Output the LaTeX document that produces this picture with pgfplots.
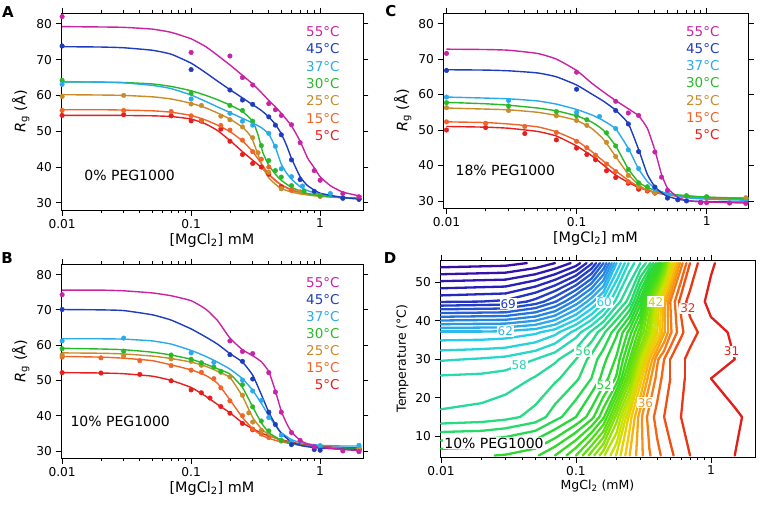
\documentclass[border=0pt]{standalone}
\usepackage{fontspec}
\setmainfont{DejaVu Sans}
\usepackage{pgfplots}
\pgfplotsset{compat=1.18}
\definecolor{c55}{RGB}{200,35,165}
\definecolor{c45}{RGB}{30,60,190}
\definecolor{c37}{RGB}{40,170,235}
\definecolor{c30}{RGB}{40,185,40}
\definecolor{c25}{RGB}{200,140,40}
\definecolor{c15}{RGB}{240,100,40}
\definecolor{c5}{RGB}{230,30,30}
\newcommand{\fs}[1]{\fontsize{#1}{#1}\selectfont}
\pgfplotsset{
  myfit/.style={line width=1.4pt, smooth, tension=0.3},
  mypts/.style={only marks, mark=*, mark size=2.3pt},
  mycl/.style={mesh, point meta=#1, line width=2.3pt, line cap=round},
}
\tikzset{
  myleg/.style={anchor=east, font=\fs{13.5}},
  myclab/.style={fill=white, inner sep=1pt, font=\fs{12}},
}
\newcommand{\tlegend}[1]{%
\node[myleg,text=c55] at (rel axis cs:#1,0.905) {55°C};
\node[myleg,text=c45] at (rel axis cs:#1,0.817) {45°C};
\node[myleg,text=c37] at (rel axis cs:#1,0.729) {37°C};
\node[myleg,text=c30] at (rel axis cs:#1,0.641) {30°C};
\node[myleg,text=c25] at (rel axis cs:#1,0.553) {25°C};
\node[myleg,text=c15] at (rel axis cs:#1,0.465) {15°C};
\node[myleg,text=c5] at (rel axis cs:#1,0.377) {5°C};}
\begin{document}
\begin{tikzpicture}
\path[use as bounding box] (0,0) rectangle (761pt,-507pt);
\node[font=\bfseries\fs{15}] at (8pt,-12pt) {A};
\node[font=\bfseries\fs{15}] at (7pt,-258pt) {B};
\node[font=\bfseries\fs{15}] at (391pt,-11pt) {C};
\node[font=\bfseries\fs{15}] at (390pt,-258pt) {D};
% ---------------- A ----------------
\begin{axis}[scale only axis, xmode=log,
    xtick={0.01,0.1,1}, xticklabels={0.01,0.1,1},
    tick align=outside, major tick length=5.5pt, minor tick length=3pt,
    axis line style={line width=0.9pt}, every tick/.style={black,line width=0.8pt},
    tick label style={font=\fs{12.2}}, label style={font=\fs{14.4}},
    ymin=28, ymax=83, ytick={30,40,50,60,70,80}, yticklabels={30,40,50,60,70,80},
    xlabel={[MgCl\textsubscript{2}] mM}, ylabel={\textit{R}\textsubscript{g} (Å)}, clip=false,
    xlabel style={yshift=2pt},
    at={(61pt,-210pt)}, anchor=south west, width=302pt, height=197pt, xmin=0.0098, xmax=2.15]
\addplot[myfit,c5] coordinates {(0.01,54.4)(0.02,54.4)(0.03,54.4)(0.05,54.3)(0.07,54.1)(0.1,53.4)(0.13,52.0)(0.16,50.2)(0.2,47.4)(0.25,44.3)(0.3,41.9)(0.35,39.9)(0.4,37.9)(0.45,36.3)(0.5,35.0)(0.6,33.6)(0.7,32.9)(0.8,32.5)(1,32.0)(1.5,31.5)(2.1,31.2)};
\addplot[mypts,c5] coordinates {(0.01,54.4)(0.03,54.6)(0.07,54.3)(0.1,52.9)(0.12,52.8)(0.17,50.6)(0.2,47.2)(0.25,43.5)(0.3,41)(0.35,40)(0.4,38)(0.5,34.5)};
\addplot[myfit,c15] coordinates {(0.01,56.0)(0.02,56.0)(0.03,55.9)(0.05,55.7)(0.07,55.3)(0.1,54.4)(0.13,53.1)(0.16,51.7)(0.2,49.9)(0.25,47.3)(0.3,44.3)(0.35,41.0)(0.4,38.0)(0.45,36.2)(0.5,35.0)(0.6,33.6)(0.7,32.9)(0.8,32.5)(1,32.0)(1.5,31.5)(2.1,31.2)};
\addplot[mypts,c15] coordinates {(0.01,55.8)(0.03,55.8)(0.07,55.5)(0.1,54.3)(0.12,53)(0.17,51.6)(0.2,50.3)(0.25,47.5)(0.3,44.3)(0.35,42.2)(0.4,40)(0.5,34)(0.6,33.5)(1,31.8)};
\addplot[myfit,c25] coordinates {(0.01,60.2)(0.02,60.1)(0.03,60.0)(0.05,59.6)(0.07,59.0)(0.1,57.8)(0.13,56.5)(0.16,55.1)(0.2,53.4)(0.25,51.1)(0.28,49.3)(0.3,47.5)(0.33,43.5)(0.36,39.8)(0.4,37.0)(0.45,35.2)(0.5,34.0)(0.6,33.0)(0.7,32.5)(0.8,32.2)(1,31.8)(1.5,31.4)(2.1,31.1)};
\addplot[mypts,c25] coordinates {(0.01,59.7)(0.03,60)(0.1,57.6)(0.12,57.2)(0.17,54.2)(0.2,53.2)(0.25,51.2)(0.3,48.2)(0.33,44)(0.4,38.5)(0.5,34)(0.7,33.1)(1,32)(2,31.2)};
\addplot[myfit,c30] coordinates {(0.01,63.8)(0.02,63.7)(0.03,63.6)(0.05,63.2)(0.07,62.5)(0.1,61.3)(0.13,60.0)(0.16,58.8)(0.2,57.3)(0.25,55.5)(0.3,52.8)(0.33,49.0)(0.36,44.0)(0.4,40.5)(0.45,38.0)(0.5,36.3)(0.6,34.3)(0.7,33.3)(0.8,32.6)(1,32.0)(1.5,31.4)(2.1,31.0)};
\addplot[mypts,c30] coordinates {(0.01,64.2)(0.1,60.6)(0.2,57.2)(0.25,55.8)(0.3,52.8)(0.35,46)(0.4,41.8)(0.45,39)(0.5,37.2)(0.6,34.8)(0.75,33.3)(1,32)(2,31)};
\addplot[myfit,c37] coordinates {(0.01,63.8)(0.02,63.7)(0.03,63.5)(0.05,62.8)(0.07,61.9)(0.1,60.1)(0.13,58.3)(0.16,56.8)(0.2,55.2)(0.25,53.6)(0.3,52.3)(0.35,51.0)(0.4,49.2)(0.45,45.5)(0.5,40.8)(0.55,38.3)(0.6,36.6)(0.7,34.5)(0.8,33.4)(1,32.4)(1.5,31.5)(2.1,31.2)};
\addplot[mypts,c37] coordinates {(0.01,63.1)(0.1,59)(0.2,55)(0.25,52.8)(0.3,51.7)(0.4,49.4)(0.45,45.8)(0.5,39.5)(0.6,37.3)(0.73,34.7)(1.2,32.6)(1.5,31.3)};
\addplot[myfit,c45] coordinates {(0.01,73.6)(0.02,73.5)(0.03,73.3)(0.05,72.6)(0.07,71.5)(0.1,69.0)(0.13,66.3)(0.16,64.0)(0.2,61.6)(0.25,59.3)(0.3,57.4)(0.35,55.8)(0.4,54.0)(0.45,51.9)(0.5,49.3)(0.55,46.0)(0.6,42.4)(0.7,37.3)(0.8,34.8)(1,32.7)(1.5,31.5)(2.1,31.1)};
\addplot[mypts,c45] coordinates {(0.01,73.8)(0.1,67.2)(0.2,61.5)(0.25,58.7)(0.3,57.5)(0.4,54)(0.45,51.7)(0.5,49)(0.6,42)(0.7,36.5)(0.9,33.2)(1.5,31.3)(2,31)};
\addplot[myfit,c55] coordinates {(0.01,79.2)(0.02,79.1)(0.03,79.0)(0.05,78.5)(0.07,77.6)(0.1,75.8)(0.13,73.6)(0.16,71.2)(0.2,68.5)(0.25,65.6)(0.3,63.2)(0.35,60.8)(0.4,58.6)(0.45,56.8)(0.5,55.0)(0.6,51.5)(0.7,47.2)(0.8,42.5)(0.9,39.8)(1,37.3)(1.2,34.8)(1.5,33.0)(2.1,31.8)};
\addplot[mypts,c55] coordinates {(0.01,82)(0.1,72)(0.2,71)(0.25,65)(0.3,62.9)(0.4,57.7)(0.45,56)(0.5,54.4)(0.6,51.8)(0.7,46.8)(0.9,39)(1,36.3)(1.5,32.6)(2,31.7)};
\tlegend{0.934}
\node[anchor=west,font=\fs{14}] at (rel axis cs:0.066,0.178) {0\% PEG1000};
\end{axis}
% ---------------- B ----------------
\begin{axis}[scale only axis, xmode=log,
    xtick={0.01,0.1,1}, xticklabels={0.01,0.1,1},
    tick align=outside, major tick length=5.5pt, minor tick length=3pt,
    axis line style={line width=0.9pt}, every tick/.style={black,line width=0.8pt},
    tick label style={font=\fs{12.2}}, label style={font=\fs{14.4}},
    ymin=28, ymax=83, ytick={30,40,50,60,70,80}, yticklabels={30,40,50,60,70,80},
    xlabel={[MgCl\textsubscript{2}] mM}, ylabel={\textit{R}\textsubscript{g} (Å)}, clip=false,
    xlabel style={yshift=2pt},
    at={(61pt,-458pt)}, anchor=south west, width=302pt, height=194pt, xmin=0.0098, xmax=2.15]
\addplot[myfit,c5] coordinates {(0.01,52.2)(0.02,52.1)(0.03,51.9)(0.05,51.2)(0.07,50.0)(0.1,48.0)(0.13,45.5)(0.16,43.2)(0.2,40.8)(0.25,38.0)(0.3,36.3)(0.35,35.1)(0.4,34.3)(0.45,33.7)(0.5,33.2)(0.6,32.5)(0.7,32.0)(0.8,31.7)(1,31.3)(1.5,31.0)(2.1,30.8)};
\addplot[mypts,c5] coordinates {(0.01,52.2)(0.02,52.1)(0.04,51.7)(0.07,49.9)(0.1,47.3)(0.12,46.5)(0.14,45)(0.17,42.6)(0.2,40.7)(0.25,37.8)(0.3,36)(0.35,35.7)};
\addplot[myfit,c15] coordinates {(0.01,56.8)(0.02,56.6)(0.03,56.3)(0.05,55.6)(0.07,54.4)(0.1,53.0)(0.13,51.4)(0.16,49.2)(0.2,44.5)(0.25,39.5)(0.3,36.3)(0.35,34.5)(0.4,33.6)(0.45,33.0)(0.5,32.6)(0.6,32.0)(0.7,31.6)(0.8,31.3)(1,31.0)(1.5,30.7)(2.1,30.5)};
\addplot[mypts,c15] coordinates {(0.01,56.6)(0.02,56.4)(0.04,55.6)(0.07,54.2)(0.1,52.9)(0.12,52.3)(0.15,50.5)(0.17,47.9)(0.2,44.2)(0.25,40)(0.3,36.2)(0.35,34.8)(0.4,33.8)};
\addplot[myfit,c25] coordinates {(0.01,57.8)(0.02,57.7)(0.03,57.5)(0.05,56.9)(0.07,56.2)(0.1,55.2)(0.13,54.0)(0.16,52.6)(0.2,50.8)(0.25,45.5)(0.3,39.5)(0.35,36.3)(0.4,34.6)(0.45,33.6)(0.5,33.0)(0.6,32.2)(0.7,31.7)(0.8,31.4)(1,31.0)(1.5,30.7)(2.1,30.5)};
\addplot[mypts,c25] coordinates {(0.01,57.2)(0.03,56.9)(0.07,56.1)(0.1,55.4)(0.12,54.3)(0.17,52.3)(0.2,51)(0.25,45.8)(0.28,40.8)(0.3,38.2)(0.35,35.8)(0.5,32.8)(2,30.7)};
\addplot[myfit,c30] coordinates {(0.01,59.1)(0.02,58.9)(0.03,58.7)(0.05,58.0)(0.07,57.2)(0.1,56.0)(0.13,54.6)(0.16,53.3)(0.2,51.8)(0.25,48.0)(0.3,42.5)(0.35,38.0)(0.4,35.2)(0.45,34.0)(0.5,33.0)(0.6,32.2)(0.7,31.7)(0.8,31.4)(1,31.0)(1.5,30.7)(2.1,30.6)};
\addplot[mypts,c30] coordinates {(0.01,59)(0.03,58.3)(0.07,57.2)(0.1,56)(0.12,55)(0.15,53.8)(0.17,52.6)(0.25,48.8)(0.3,42.5)(0.35,38.5)(0.4,35.7)(0.5,33)(1,31.3)};
\addplot[myfit,c37] coordinates {(0.01,61.8)(0.02,61.8)(0.03,61.7)(0.05,61.2)(0.07,60.3)(0.1,58.5)(0.13,56.8)(0.16,55.2)(0.2,53.2)(0.25,50.5)(0.3,47.2)(0.35,43.5)(0.4,40.0)(0.45,37.2)(0.5,35.2)(0.6,33.2)(0.7,32.4)(0.8,32.0)(1,31.6)(1.5,31.4)(2.1,31.4)};
\addplot[mypts,c37] coordinates {(0.01,61.2)(0.03,62)(0.1,57.8)(0.15,55.1)(0.25,50.1)(0.3,47)(0.35,44.3)(0.4,39.5)(0.5,34.5)(0.6,32.6)(1,31.5)(2,31.6)};
\addplot[myfit,c45] coordinates {(0.01,70.1)(0.02,70.0)(0.03,69.8)(0.05,68.6)(0.07,67.1)(0.1,64.6)(0.13,62.3)(0.16,60.3)(0.2,57.6)(0.25,55.2)(0.3,51.5)(0.35,46.0)(0.4,41.0)(0.45,37.5)(0.5,35.0)(0.6,32.5)(0.7,31.6)(0.8,31.2)(1,30.8)(1.5,30.5)(2.1,30.4)};
\addplot[mypts,c45] coordinates {(0.01,70.1)(0.2,57.3)(0.25,55.4)(0.3,50.4)(0.4,41)(0.45,37.5)(0.6,31.8)(0.9,30.4)(1,30.2)};
\addplot[myfit,c55] coordinates {(0.01,75.6)(0.02,75.6)(0.03,75.4)(0.05,74.8)(0.07,74.0)(0.1,72.6)(0.13,70.2)(0.16,67.0)(0.2,62.0)(0.25,58.7)(0.3,57.0)(0.35,55.3)(0.4,52.5)(0.45,47.0)(0.5,41.3)(0.55,37.8)(0.6,35.4)(0.7,33.0)(0.8,32.0)(1,31.1)(1.5,30.4)(2.1,30.1)};
\addplot[mypts,c55] coordinates {(0.01,74.3)(0.2,61.2)(0.25,58.2)(0.3,57.6)(0.4,52.2)(0.45,46.7)(0.5,41)(0.6,35.2)(0.7,33)(0.9,31.2)(1.5,30)(2,29.8)};
\tlegend{0.934}
\node[anchor=west,font=\fs{14}] at (rel axis cs:0.02,0.187) {10\% PEG1000};
\end{axis}
% ---------------- C ----------------
\begin{axis}[scale only axis, xmode=log,
    xtick={0.01,0.1,1}, xticklabels={0.01,0.1,1},
    tick align=outside, major tick length=5.5pt, minor tick length=3pt,
    axis line style={line width=0.9pt}, every tick/.style={black,line width=0.8pt},
    tick label style={font=\fs{12.2}}, label style={font=\fs{14.4}},
    ymin=28, ymax=83, ytick={30,40,50,60,70,80}, yticklabels={30,40,50,60,70,80},
    xlabel={[MgCl\textsubscript{2}] mM}, ylabel={\textit{R}\textsubscript{g} (Å)}, clip=false,
    xlabel style={yshift=2pt},
    at={(443pt,-208pt)}, anchor=south west, width=305pt, height=195pt, xmin=0.0094, xmax=2.08]
\addplot[myfit,c5] coordinates {(0.01,51.0)(0.02,50.8)(0.03,50.5)(0.05,49.6)(0.07,48.3)(0.1,45.5)(0.13,42.8)(0.16,40.2)(0.2,37.3)(0.25,35.2)(0.3,33.8)(0.35,33.0)(0.4,32.5)(0.45,32.2)(0.5,31.9)(0.6,31.5)(0.7,31.2)(0.8,31.0)(1,30.8)(1.5,30.6)(2.1,30.5)};
\addplot[mypts,c5] coordinates {(0.01,50)(0.02,50.7)(0.04,49)(0.07,47.2)(0.1,44.9)(0.12,43.1)(0.14,41.6)(0.17,38.5)(0.2,36.6)(0.25,35)(0.3,33.3)(0.35,32.8)(0.4,32.2)};
\addplot[myfit,c15] coordinates {(0.01,52.3)(0.02,52.1)(0.03,51.7)(0.05,50.9)(0.07,49.5)(0.1,47.0)(0.13,44.0)(0.16,41.3)(0.2,38.5)(0.25,35.8)(0.3,34.0)(0.35,33.0)(0.4,32.4)(0.45,32.0)(0.5,31.7)(0.6,31.3)(0.7,31.1)(0.8,31.0)(1,30.8)(1.5,30.7)(2.1,30.6)};
\addplot[mypts,c15] coordinates {(0.01,52.3)(0.02,51.9)(0.04,51)(0.07,49.3)(0.1,46.8)(0.12,45)(0.14,42.9)(0.17,40.4)(0.2,38.3)(0.25,35.4)(0.3,33.9)(0.35,33)};
\addplot[myfit,c25] coordinates {(0.01,56.2)(0.02,55.9)(0.03,55.7)(0.05,55.0)(0.07,54.1)(0.1,52.7)(0.13,50.5)(0.16,47.5)(0.2,42.5)(0.25,37.5)(0.3,34.5)(0.35,33.0)(0.4,32.4)(0.45,32.0)(0.5,31.8)(0.6,31.5)(0.7,31.3)(0.8,31.2)(1,31.0)(1.5,30.9)(2.1,30.8)};
\addplot[mypts,c25] coordinates {(0.01,56.3)(0.03,55.5)(0.07,54)(0.1,52.7)(0.12,51.3)(0.17,46.5)(0.2,42.5)(0.25,37.2)(0.3,34.4)(0.4,32.3)(2,30.9)};
\addplot[myfit,c30] coordinates {(0.01,57.8)(0.02,57.4)(0.03,57.0)(0.05,56.2)(0.07,55.4)(0.1,54.0)(0.13,52.3)(0.16,50.0)(0.2,45.5)(0.25,39.0)(0.3,35.3)(0.35,33.8)(0.4,33.0)(0.45,32.5)(0.5,32.1)(0.6,31.7)(0.7,31.5)(0.8,31.3)(1,31.1)(1.5,30.8)(2.1,30.7)};
\addplot[mypts,c30] coordinates {(0.01,57.7)(0.03,56.8)(0.07,55.2)(0.1,54)(0.12,52.9)(0.17,49.2)(0.2,45.5)(0.25,38.9)(0.3,35.1)(0.35,34)(0.7,31.5)(1,31.2)};
\addplot[myfit,c37] coordinates {(0.01,59.3)(0.02,59.0)(0.03,58.8)(0.05,58.2)(0.07,57.3)(0.1,55.8)(0.13,54.3)(0.16,52.7)(0.2,50.3)(0.25,44.8)(0.3,39.0)(0.35,35.5)(0.4,33.6)(0.45,32.6)(0.5,32.0)(0.6,31.3)(0.7,30.9)(0.8,30.7)(1,30.5)(1.5,30.3)(2.1,30.2)};
\addplot[mypts,c37] coordinates {(0.01,59.3)(0.03,58.3)(0.1,55)(0.15,53.8)(0.2,50.4)(0.25,44.4)(0.3,39.1)(0.4,33.4)(0.5,32.3)};
\addplot[myfit,c45] coordinates {(0.01,67.0)(0.02,66.9)(0.03,66.7)(0.05,66.1)(0.07,65.0)(0.1,62.7)(0.13,60.2)(0.16,58.2)(0.2,55.6)(0.25,51.8)(0.3,44.5)(0.35,37.5)(0.4,34.0)(0.45,32.3)(0.5,31.3)(0.6,30.5)(0.7,30.1)(0.8,29.9)(1,29.8)(1.5,29.7)(2.1,29.7)};
\addplot[mypts,c45] coordinates {(0.01,66.8)(0.1,61.5)(0.2,55.5)(0.25,51.7)(0.3,43.9)(0.4,33.9)(0.5,30.8)(0.6,30.3)(0.7,30)(0.9,29.6)};
\addplot[myfit,c55] coordinates {(0.01,72.8)(0.02,72.7)(0.03,72.5)(0.05,71.6)(0.07,70.0)(0.1,66.8)(0.13,63.3)(0.16,60.8)(0.2,58.3)(0.25,56.0)(0.3,54.0)(0.35,50.5)(0.4,44.3)(0.45,37.5)(0.5,33.6)(0.6,31.0)(0.7,30.2)(0.8,29.9)(1,29.7)(1.5,29.5)(2.1,29.4)};
\addplot[mypts,c55] coordinates {(0.01,71.6)(0.1,66.3)(0.2,58.1)(0.25,54.8)(0.3,54.1)(0.4,43.8)(0.45,36.7)(0.5,33)(0.9,29.5)(1,29.5)(1.5,29.4)(2,29.3)};
\tlegend{0.918}
\node[anchor=west,font=\fs{14}] at (rel axis cs:0.03,0.195) {18\% PEG1000};
\end{axis}
% ---------------- D ----------------
\begin{axis}[scale only axis, xmode=log,
    xtick={0.01,0.1,1}, xticklabels={0.01,0.1,1},
    tick align=outside, major tick length=5.5pt, minor tick length=3pt,
    axis line style={line width=0.9pt}, every tick/.style={black,line width=0.8pt},
    tick label style={font=\fs{12.2}},
  at={(440pt,-457pt)}, anchor=south west, width=315pt, height=197pt,
  xmin=0.00984, xmax=2.12, ymin=4.6, ymax=55.8,
  ytick={10,20,30,40,50}, yticklabels={10,20,30,40,50}, ytick pos=left,
  xlabel={MgCl\textsubscript{2} (mM)}, ylabel={Temperature (°C)},
  label style={font=\fs{12.5}}, xlabel style={yshift=2pt},
  colormap={rg}{rgb255(31pt)=(225,30,25); rgb255(33pt)=(240,80,20); rgb255(36pt)=(248,145,25);
    rgb255(39pt)=(245,200,10); rgb255(42pt)=(200,228,0); rgb255(45pt)=(130,225,10);
    rgb255(49pt)=(60,220,30); rgb255(53pt)=(40,215,60); rgb255(56pt)=(40,220,130);
    rgb255(59pt)=(40,215,200); rgb255(61pt)=(40,205,235); rgb255(63pt)=(45,170,235);
    rgb255(66pt)=(35,115,220); rgb255(69pt)=(35,60,200); rgb255(72pt)=(40,30,185); rgb255(75pt)=(60,10,165)},
  point meta min=31, point meta max=75]
\addplot[mycl=31] coordinates {(1.5,5)(1.7,15)(1.5,17.5)(1.0,25)(1.5,30)(1.33,37)(1.0,41)(0.9,45)(1.0,51.7)(1.07,55)};
\addplot[mycl=32] coordinates {(0.7,5)(0.6,15)(0.64,25)(0.64,30)(0.7,33)(0.8,37)(0.7,41)(0.656,45)(0.7,47.9)(0.8,55)};
\addplot[mycl=33] coordinates {(0.529,5)(0.5,8.3)(0.45,15)(0.5,25)(0.5,30)(0.6,35.6)(0.625,37)(0.58,45)(0.6,46.7)(0.7,55)};
\addplot[mycl=34] coordinates {(0.425,5)(0.4,9.3)(0.378,15)(0.4,19)(0.43,25)(0.45,30)(0.5,33.2)(0.56,37)(0.54,45)(0.6,50.2)(0.658,55)};
\addplot[mycl=35] coordinates {(0.356,5)(0.35,6.7)(0.336,15)(0.35,17.8)(0.388,25)(0.4,28.3)(0.408,30)(0.45,32.2)(0.5,36.4)(0.51,37)(0.5,45)(0.6,53.6)(0.617,55)};
\addplot[mycl=36] coordinates {(0.3125,5)(0.308,15)(0.35,23.3)(0.359,25)(0.386,30)(0.4,31.2)(0.45,34.4)(0.48,37)(0.48,45)(0.5,46.6)(0.59,55)};
\addplot[mycl=37] coordinates {(0.279,5)(0.289,15)(0.3,17.2)(0.339,25)(0.35,27.1)(0.368,30)(0.4,32.6)(0.45,36.6)(0.455,37)(0.46,45)(0.5,48.2)(0.573,55)};
\addplot[mycl=38] coordinates {(0.25,5)(0.273,15)(0.3,20.3)(0.323,25)(0.35,30)(0.4,34.1)(0.436,37)(0.443,45)(0.45,45.5)(0.5,49.8)(0.556,55)};
\addplot[mycl=39] coordinates {(0.232,5)(0.25,11.7)(0.258,15)(0.3,23.4)(0.308,25)(0.339,30)(0.35,31.3)(0.4,35.5)(0.418,37)(0.4286,45)(0.45,46.6)(0.5,51.3)(0.539,55)};
\addplot[mycl=40] coordinates {(0.214,5)(0.245,15)(0.25,15.8)(0.296,25)(0.3,25.8)(0.328,30)(0.35,32.5)(0.4,37)(0.414,45)(0.45,47.6)(0.5,52.9)(0.522,55)};
\addplot[mycl=41] coordinates {(0.197,5)(0.2,5.5)(0.235,15)(0.25,17.5)(0.2875,25)(0.3,27.5)(0.317,30)(0.35,33.8)(0.386,37)(0.4,45)(0.45,48.7)(0.5,54.5)(0.505,55)};
\addplot[mycl=42] coordinates {(0.18,5)(0.2,8.2)(0.225,15)(0.25,19.2)(0.279,25)(0.3,29.2)(0.3056,30)(0.35,35.1)(0.371,37)(0.39,45)(0.4,45.9)(0.45,49.7)(0.494,55)};
\addplot[mycl=43] coordinates {(0.163,5)(0.2,10.9)(0.215,15)(0.25,20.8)(0.271,25)(0.295,30)(0.3,30.7)(0.35,36.4)(0.357,37)(0.38,45)(0.4,46.8)(0.45,50.8)(0.485,55)};
\addplot[mycl=44] coordinates {(0.1496,5)(0.16,6.3)(0.2,13.6)(0.205,15)(0.25,22.5)(0.2625,25)(0.286,30)(0.3,31.8)(0.343,37)(0.35,38.6)(0.37,45)(0.4,47.6)(0.45,51.8)(0.476,55)};
\addplot[mycl=45] coordinates {(0.1365,5)(0.16,8)(0.1957,15)(0.2,15.8)(0.25,24.2)(0.254,25)(0.277,30)(0.3,33.3)(0.33,37)(0.35,41.8)(0.36,45)(0.4,48.5)(0.45,52.9)(0.4675,55)};
\addplot[mycl=46] coordinates {(0.124,5)(0.13,5.85)(0.16,9.7)(0.187,15)(0.2,17.4)(0.245,25)(0.25,26)(0.268,30)(0.3,35.2)(0.316,37)(0.35,45)(0.4,49.35)(0.45,53.9)(0.459,55)};
\addplot[mycl=47] coordinates {(0.112,5)(0.13,7.5)(0.16,11.3)(0.1787,15)(0.2,19)(0.236,25)(0.25,28)(0.259,30)(0.3,36.7)(0.3027,37)(0.341,45)(0.35,46.1)(0.4,50.2)(0.45,55)};
\addplot[mycl=48] coordinates {(0.1,5)(0.13,9.2)(0.16,13)(0.17,15)(0.2,20.6)(0.226,25)(0.25,30)(0.288,37)(0.3,38.5)(0.332,45)(0.35,47.2)(0.4,51.1)(0.441,55)};
\addplot[mycl=49] coordinates {(0.085,5)(0.1,7)(0.13,10.9)(0.16,14.7)(0.1617,15)(0.2,22.1)(0.217,25)(0.237,30)(0.25,32.8)(0.273,37)(0.3,40.35)(0.3227,45)(0.35,48.2)(0.4,52)(0.432,55)};
\addplot[mycl=50] coordinates {(0.07,5)(0.1,9)(0.13,12.6)(0.149,15)(0.16,17.4)(0.2,23.7)(0.2075,25)(0.2237,30)(0.25,35.6)(0.2576,37)(0.3,42.2)(0.3136,45)(0.35,49.3)(0.4,52.8)(0.4227,55)};
\addplot[mycl=51] coordinates {(0.053,5)(0.07,7.3)(0.1,11)(0.13,14.3)(0.1355,15)(0.16,20.3)(0.1956,25)(0.2,26)(0.2105,30)(0.241,37)(0.25,37.8)(0.3,44.1)(0.3045,45)(0.35,50.4)(0.4,53.7)(0.4136,55)};
\addplot[mycl=52] coordinates {(0.025,5)(0.03,5.2)(0.05,6.8)(0.07,9.5)(0.1,13)(0.119,15)(0.13,17.3)(0.16,23.2)(0.173,25)(0.195,30)(0.2,31)(0.222,37)(0.25,39.45)(0.2936,45)(0.3,45.9)(0.35,51.45)(0.4,54.6)(0.4045,55)};
\addplot[mycl=53] coordinates {(0.01,6.74)(0.02,7.0)(0.03,7.5)(0.05,9.1)(0.07,11.8)(0.1,15)(0.13,21.2)(0.151,25)(0.16,27.9)(0.168,30)(0.2,36)(0.2037,37)(0.25,41.1)(0.281,45)(0.3,47.7)(0.35,52.5)(0.391,55)};
\addplot[mycl=54] coordinates {(0.01,8.9)(0.02,9.2)(0.03,9.8)(0.05,11.4)(0.07,14.1)(0.0786,15)(0.1,19.5)(0.13,25)(0.144,30)(0.16,32.6)(0.184,37)(0.2,38.45)(0.25,42.7)(0.268,45)(0.3,49.5)(0.35,53.6)(0.373,55)};
\addplot[mycl=55] coordinates {(0.01,11.1)(0.02,11.4)(0.03,12.05)(0.05,13.6)(0.06,15)(0.07,18.3)(0.1,24.1)(0.105,25)(0.121,30)(0.13,31.3)(0.16,36.3)(0.164,37)(0.2,40.3)(0.25,44.3)(0.255,45)(0.3,51.4)(0.35,54.7)(0.355,55)};
\addplot[mycl=56] coordinates {(0.01,13.3)(0.02,13.7)(0.03,14.3)(0.0386,15)(0.05,18.1)(0.07,23.9)(0.076,25)(0.1,30)(0.13,34.5)(0.145,37)(0.16,38.25)(0.2,42.1)(0.236,45)(0.25,46.8)(0.3,53.2)(0.329,55)};
\addplot[mycl=57] coordinates {(0.01,17)(0.02,18.6)(0.03,20.8)(0.0467,25)(0.05,25.5)(0.07,29)(0.075,30)(0.1,32.8)(0.1265,37)(0.13,37.3)(0.16,39.8)(0.2,43.9)(0.2136,45)(0.25,49.85)(0.3,55)};
\addplot[mycl=58] coordinates {(0.01,25.8)(0.02,26.25)(0.03,27.1)(0.05,30)(0.07,31.8)(0.1,35.6)(0.1088,37)(0.13,38.75)(0.16,41.4)(0.194,45)(0.2,45.9)(0.25,52.9)(0.2706,55)};
\addplot[mycl=59] coordinates {(0.01,29.6)(0.015,30)(0.02,30.24)(0.03,30.7)(0.05,32.2)(0.07,34.1)(0.0917,37)(0.1,37.66)(0.13,40.2)(0.16,42.96)(0.179,45)(0.2,48.2)(0.2455,55)};
\addplot[mycl=60] coordinates {(0.01,32.3)(0.02,32.65)(0.03,33.0)(0.05,34.4)(0.07,36.3)(0.075,37)(0.1,39)(0.13,41.65)(0.16,44.5)(0.1644,45)(0.2,50.45)(0.23,55)};
\addplot[mycl=61] coordinates {(0.01,34.9)(0.02,35.07)(0.03,35.4)(0.05,36.56)(0.0544,37)(0.07,37.8)(0.1,40.3)(0.13,43.1)(0.1495,45)(0.16,46)(0.2,52.7)(0.215,55)};
\addplot[mycl=62] coordinates {(0.01,37.19)(0.02,37.19)(0.03,37.3)(0.05,37.86)(0.07,39.0)(0.1,41.6)(0.13,44.56)(0.1345,45)(0.16,47.5)(0.2,55)};
\addplot[mycl=63] coordinates {(0.01,38.16)(0.03,38.28)(0.05,38.95)(0.07,40.2)(0.1,42.9)(0.121,45)(0.13,45.9)(0.16,49)(0.192,55)};
\addplot[mycl=64] coordinates {(0.01,39.12)(0.03,39.27)(0.05,40.03)(0.07,41.35)(0.1,44.2)(0.108,45)(0.13,47.15)(0.16,50.5)(0.184,55)};
\addplot[mycl=65] coordinates {(0.01,40.08)(0.03,40.26)(0.05,41.1)(0.07,42.5)(0.095,45)(0.1,45.5)(0.13,48.4)(0.16,52)(0.176,55)};
\addplot[mycl=66] coordinates {(0.01,41.05)(0.03,41.25)(0.05,42.2)(0.07,43.7)(0.083,45)(0.1,46.75)(0.13,49.7)(0.16,53.5)(0.168,55)};
\addplot[mycl=67] coordinates {(0.01,42.01)(0.03,42.2)(0.05,43.3)(0.07,44.9)(0.0712,45)(0.1,48)(0.13,50.9)(0.16,55)};
\addplot[mycl=68] coordinates {(0.01,42.98)(0.03,43.2)(0.05,44.35)(0.058,45)(0.07,46.3)(0.1,49.25)(0.13,52.2)(0.1506,55)};
\addplot[mycl=69] coordinates {(0.01,43.94)(0.03,44.2)(0.0433,45)(0.05,45.65)(0.07,47.75)(0.1,50.5)(0.13,53.5)(0.141,55)};
\addplot[mycl=70] coordinates {(0.01,44.9)(0.02,45)(0.03,45.36)(0.05,47.3)(0.07,49.2)(0.1,51.75)(0.13,54.75)(0.132,55)};
\addplot[mycl=71] coordinates {(0.01,46.6)(0.03,47.1)(0.05,48.9)(0.07,50.65)(0.1,53)(0.12,55)};
\addplot[mycl=72] coordinates {(0.01,48.45)(0.03,48.9)(0.05,50.5)(0.07,52.1)(0.1,54.25)(0.1075,55)};
\addplot[mycl=73] coordinates {(0.01,50.3)(0.03,50.7)(0.05,52.1)(0.07,53.55)(0.0914,55)};
\addplot[mycl=74] coordinates {(0.01,52.1)(0.03,52.5)(0.05,53.7)(0.07,55)};
\addplot[mycl=75] coordinates {(0.01,53.9)(0.03,54.3)(0.0433,55)};
\node[myclab,text={rgb,255:red,35;green,60;blue,200}] at (axis cs:0.0315,44.4) {69};
\node[myclab,text={rgb,255:red,40;green,205;blue,235}] at (axis cs:0.162,44.8) {60};
\node[myclab,text={rgb,255:red,190;green,220;blue,0}] at (axis cs:0.39,45) {42};
\node[myclab,text={rgb,255:red,230;green,45;blue,30}] at (axis cs:0.675,43.2) {32};
\node[myclab,text={rgb,255:red,45;green,180;blue,235}] at (axis cs:0.03,37.3) {62};
\node[myclab,text={rgb,255:red,40;green,210;blue,180}] at (axis cs:0.038,28.6) {58};
\node[myclab,text={rgb,255:red,40;green,215;blue,130}] at (axis cs:0.113,32) {56};
\node[myclab,text={rgb,255:red,40;green,210;blue,60}] at (axis cs:0.162,23.2) {52};
\node[myclab,text={rgb,255:red,245;green,150;blue,25}] at (axis cs:0.327,18.7) {36};
\node[myclab,text={rgb,255:red,225;green,30;blue,25}] at (axis cs:1.42,32) {31};
\node[anchor=west,fill=white,inner sep=1pt,font=\fs{14}] at (rel axis cs:0.01,0.071) {10\% PEG1000};
\end{axis}
\end{tikzpicture}
\end{document}
